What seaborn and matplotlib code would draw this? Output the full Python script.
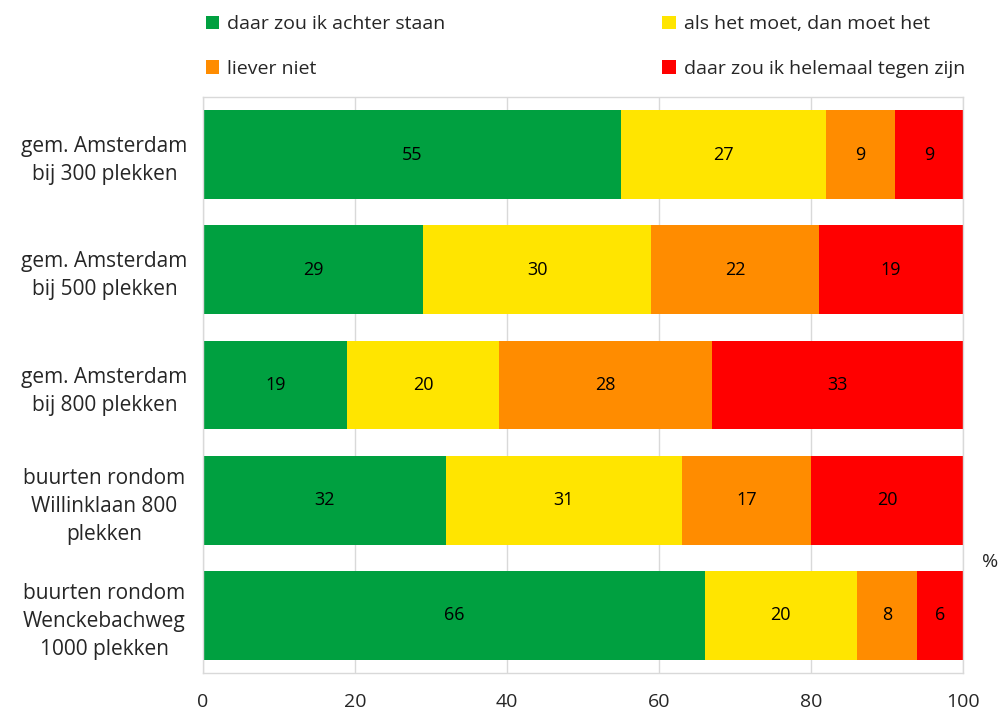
import numpy as np
import pandas as pd
import matplotlib
matplotlib.use("Agg")
import matplotlib.pyplot as plt
import seaborn as sns
from matplotlib.patches import Patch

# data
groups = ["gem. Amsterdam\nbij 300 plekken",
          "gem. Amsterdam\nbij 500 plekken",
          "gem. Amsterdam\nbij 800 plekken",
          "buurten rondom\nWillinklaan 800\nplekken",
          "buurten rondom\nWenckebachweg\n1000 plekken"]
achter = [55, 29, 19, 32, 66]
moet = [27, 30, 20, 31, 20]
liever_niet = [9, 22, 28, 17, 8]
tegen = [9, 19, 33, 20, 6]
series = ["daar zou ik achter staan", "als het moet, dan moet het",
          "liever niet", "daar zou ik helemaal tegen zijn"]
colors = ["#00A040", "#FFE500", "#FF8C00", "#FF0000"]
xticks = [0, 20, 40, 60, 80, 100]

sns.set_theme(style="white")
plt.rcParams['font.family'] = ['Open Sans', 'DejaVu Sans']

df = pd.DataFrame({"groep": groups, series[0]: achter, series[1]: moet,
                   series[2]: liever_niet, series[3]: tegen})
cum = df[series].cumsum(axis=1)

fig = plt.figure(figsize=(10.01, 7.13), dpi=100)
ax = fig.add_axes([0.2028, 0.056, 0.7592, 0.808])

# stacked bars: draw the cumulative totals from the back to the front
for s, c in reversed(list(zip(series, colors))):
    sns.barplot(x=cum[s], y=df["groep"], color=c, width=0.77,
                orient="h", ax=ax, saturation=1, linewidth=0)

for i in range(len(groups)):
    for s in series:
        v = df.loc[i, s]
        ax.text(cum.loc[i, s] - v / 2, i, str(v), ha="center", va="center",
                fontsize=13, color="black")

ax.set_xlim(0, 100)
ax.set_ylim(len(groups) - 0.5, -0.5)
ax.set_xticks(xticks)
ax.set_xlabel("")
ax.set_ylabel("")
ax.grid(axis="x", color="#D9D9D9", linewidth=1)
ax.set_axisbelow(True)
for sp in ax.spines.values():
    sp.set_color("#D9D9D9")
    sp.set_linewidth(1)
ax.tick_params(axis="x", length=0, pad=14, labelsize=14)
ax.tick_params(axis="y", length=0, pad=71, labelsize=15)
for lbl in ax.get_yticklabels():
    lbl.set_horizontalalignment("center")
    lbl.set_multialignment("center")
    lbl.set_linespacing(1.45)

fig.text(990 / 1001, 1 - 562 / 713, "%", ha="center", va="center", fontsize=14)

# legend fills column-wise, so order the entries to read row by row
order = [0, 2, 1, 3]
handles = [Patch(facecolor=colors[k], edgecolor="none") for k in order]
labels = [series[k] for k in order]
fig.legend(handles, labels, loc="upper left", ncol=2,
           bbox_to_anchor=(0.188, 1.003), frameon=False, fontsize=14,
           handlelength=0.7, handleheight=0.7, handletextpad=0.4,
           columnspacing=11.15, labelspacing=1.35)

fig.savefig("out.png", dpi=100)
